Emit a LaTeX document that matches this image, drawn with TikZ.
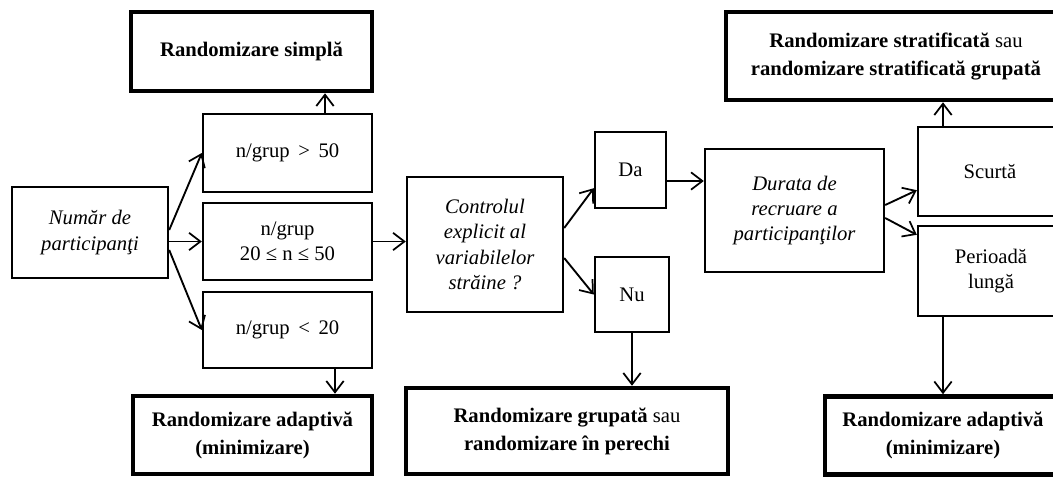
\documentclass[tikz,border=0pt]{standalone}
\usepackage{fontspec}
\setmainfont{Liberation Serif}
\usetikzlibrary{arrows.meta,calc}

\tikzset{every picture/.style={line width=0.75pt}}
\tikzset{
  thinbox/.style={draw, line width=1.8pt, align=center, inner sep=0.75pt, font=\fontsize{15.5}{19}\selectfont},
  thickbox/.style={draw, line width=3.4pt, align=center, inner sep=0.75pt, font=\fontsize{15.5}{21}\selectfont\bfseries},
  flow/.style={line width=1.4pt, -{Straight Barb[length=8.5pt,width=13pt,line width=1.3pt]}}
}

\begin{document}
\begin{tikzpicture}[x=0.75pt,y=0.75pt,yscale=-1,xscale=1]
	%set diagram left start at 0, and has height of 476
	\clip (0,0) rectangle (1053,476);

	%Shape: Rectangle [id:numar]
	\draw (90,232.5) node [thinbox, minimum width=117pt, minimum height=68.25pt] (numar) {\itshape Număr de\\\itshape participanţi};
	%Shape: Rectangle [id:n50]
	\draw (287.5,153) node [thinbox, minimum width=126.75pt, minimum height=58.5pt] (n50) {n/grup \,>\, 50};
	%Shape: Rectangle [id:nmid]
	\draw (287.5,241.5) node [thinbox, minimum width=126.75pt, minimum height=57.75pt] (nmid) {n/grup\\20 ≤ n ≤ 50};
	%Shape: Rectangle [id:n20]
	\draw (287.5,330) node [thinbox, minimum width=126.75pt, minimum height=57pt] (n20) {n/grup \,<\, 20};
	%Shape: Rectangle [id:simpla]
	\draw (251.5,51.5) node [thickbox, minimum width=180.75pt, minimum height=59.25pt] (simpla) {Randomizare simplă};
	%Shape: Rectangle [id:adaptst]
	\draw (252.5,435) node [thickbox, minimum width=179.25pt, minimum height=58.5pt] (adaptst) {Randomizare adaptivă\\(minimizare)};

	%Shape: Rectangle [id:control]
	\draw (485,244.5) node [thinbox, minimum width=117pt, minimum height=101.25pt] (control) {\itshape Controlul\\\itshape explicit al\\\itshape variabilelor\\\itshape străine ?};
	%Shape: Rectangle [id:da]
	\draw (630.5,170) node [thinbox, minimum width=53.25pt, minimum height=57pt] (da) {Da};
	%Shape: Rectangle [id:nu]
	\draw (632,294.5) node [thinbox, minimum width=55.5pt, minimum height=56.25pt] (nu) {Nu};
	%Shape: Rectangle [id:grupata]
	\draw (567,431) node [thickbox, minimum width=241.5pt, minimum height=64.5pt] (grupata) {Randomizare grupată {\mdseries sau}\\randomizare în perechi};

	%Shape: Rectangle [id:durata]
	\draw (794.5,210.5) node [thinbox, minimum width=134.25pt, minimum height=92.25pt] (durata) {\itshape Durata de\\\itshape recruare a\\\itshape participanţilor};
	%Shape: Rectangle [id:scurta]
	\draw (990,171.5) node [thinbox, minimum width=108pt, minimum height=66.75pt] (scurta) {Scurtă};
	%Shape: Rectangle [id:perioada]
	\draw (991,271) node [thinbox, minimum width=109.5pt, minimum height=67.5pt] (perioada) {Perioadă\\lungă};
	%Shape: Rectangle [id:strat]
	\draw (896,56) node [thickbox, minimum width=255pt, minimum height=66pt] (strat) {Randomizare stratificată {\mdseries sau}\\randomizare stratificată grupată};
	%Shape: Rectangle [id:adaptdr]
	\draw (943,435.5) node [thickbox, minimum width=177pt, minimum height=58.5pt] (adaptdr) {Randomizare adaptivă\\(minimizare)};

	%Straight Lines [id:numar-n]
	\draw [flow] ($(numar.east)+(0,-2.5)$) -- (n50.west) ;
	\draw [flow] (numar.east |- nmid.west) -- (nmid.west) ;
	\draw [flow] ($(numar.east)+(0,17.5)$) -- (n20.west) ;
	%Straight Lines [id:n-rand]
	\coordinate (up1) at ($(n50.north)+(37.5,0)$);
	\draw [flow] (up1) -- (up1 |- simpla.south) ;
	\coordinate (dn1) at ($(n20.south)+(47.5,0)$);
	\draw [flow] (dn1) -- (dn1 |- adaptst.north) ;
	%Straight Lines [id:nmid-control]
	\draw [flow] (nmid.east) -- (control.west |- nmid.east) ;
	%Straight Lines [id:control-da-nu]
	\draw [flow] ($(control.east)+(0,-16.5)$) -- ($(da.south west)+(0,-21)$) ;
	\draw [flow] ($(control.east)+(0,13.5)$) -- (nu.west) ;
	\coordinate (daout) at ($(da.east)+(0,11)$);
	\draw [flow] (daout) -- (daout -| durata.west) ;
	\draw [flow] (nu.south) -- (nu.south |- grupata.north) ;
	%Straight Lines [id:durata-out]
	\draw [flow] ($(durata.east)+(0,-5.5)$) -- ($(scurta.south west)+(0,-27)$) ;
	\draw [flow] ($(durata.east)+(0,7.5)$) -- ($(perioada.north west)+(0,10)$) ;
	\coordinate (up2) at ($(scurta.north)+(-47,0)$);
	\draw [flow] (up2) -- (up2 |- strat.south) ;
	\coordinate (dn2) at (adaptdr.north |- perioada.south);
	\draw [flow] (dn2) -- (adaptdr.north) ;

\end{tikzpicture}
\end{document}
